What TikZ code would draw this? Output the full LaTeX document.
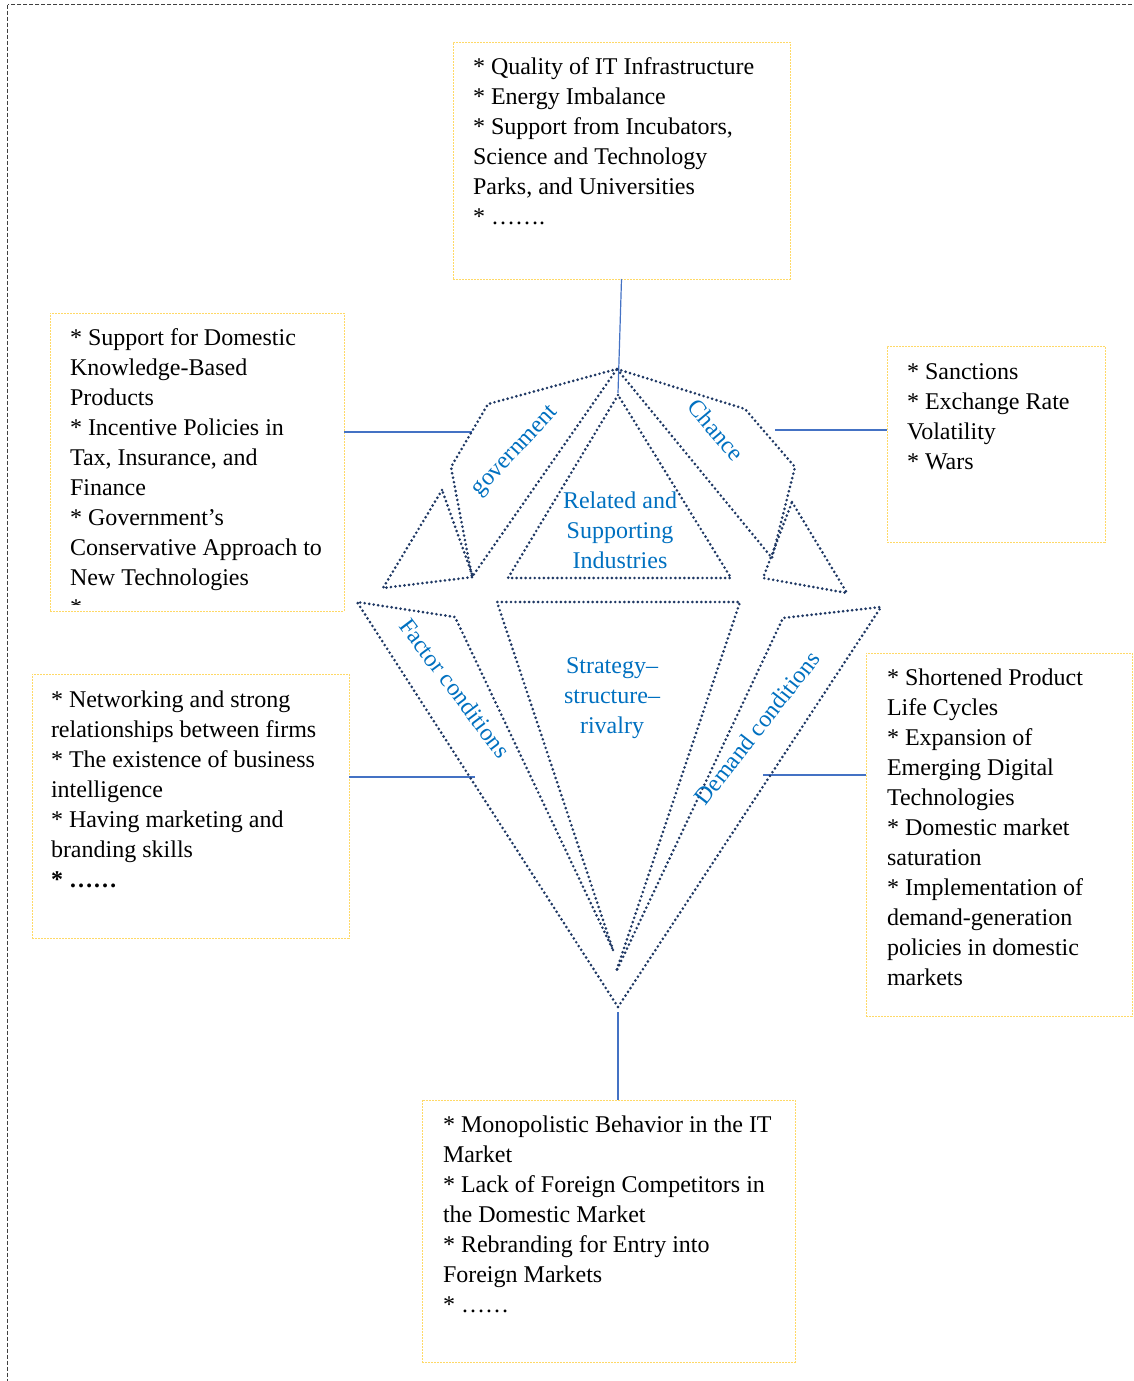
\documentclass[tikz,border=0pt]{standalone}
\usepackage{fontspec}
\setmainfont{Liberation Serif}
\usetikzlibrary{fit}
\definecolor{navy}{HTML}{1F3864}
\definecolor{linkblue}{HTML}{4472C4}
\definecolor{labblue}{HTML}{0070C0}
\definecolor{boxline}{HTML}{FFD966}

\begin{document}
\begin{tikzpicture}[x=0.75pt,y=-0.75pt,
  every node/.style={inner sep=0pt, outer sep=0pt},
  txt/.style={anchor=north west, align=left, font=\fontsize{18}{22.5}\selectfont},
  lbl/.style={text=labblue, font=\fontsize{18}{22.5}\selectfont},
  infobox/.style={draw=boxline, line width=0.75pt, dash pattern=on 1.5pt off 0.75pt},
  piece/.style={draw=navy, line width=2.2pt, line cap=round, line join=round, dash pattern=on 0pt off 3.4pt},
  link/.style={draw=linkblue, line width=0.9pt},
  frame/.style={draw=black!75, line width=0.75pt, dash pattern=on 3pt off 1.5pt}
]
\clip (0,0) rectangle (1134,1381);
% page frame
\draw[frame] (7.5,4.5) rectangle (1200,1450);

% ---------- boxes ----------
\node[infobox, fit={(453,42) (790,279)}] (topbox) {};
\node[infobox, fit={(50,313) (344,611)}] (govbox) {};
\node[infobox, fit={(887,346) (1105,542)}] (chancebox) {};
\node[infobox, fit={(32,674) (349,938)}] (factorbox) {};
\node[infobox, fit={(866,653) (1132,1016)}] (demandbox) {};
\node[infobox, fit={(422,1100) (795,1362)}] (bottombox) {};

% ---------- box texts ----------
\node[txt] (toptext) at (473,53) {\strut * Quality of IT Infrastructure\\
* Energy Imbalance\\
* Support from Incubators,\\
Science and Technology\\
Parks, and Universities\\
* …….};

% the last line of this box is cut by the box's inner margin
\begin{scope}
\clip (50,313) rectangle (344,604);
\node[txt] (govtext) at (70,324) {\strut * Support for Domestic\\
Knowledge-Based\\
Products\\
* Incentive Policies in\\
Tax, Insurance, and\\
Finance\\
* Government’s\\
Conservative Approach to\\
New Technologies\\
*};
\end{scope}

\node[txt] (chancetext) at (907,358) {\strut * Sanctions\\
* Exchange Rate\\
Volatility\\
* Wars};

\node[txt] (factortext) at (51,686) {\strut * Networking and strong\\
relationships between firms\\
* The existence of business\\
intelligence\\
* Having marketing and\\
branding skills\\
\textbf{* ……}};

\node[txt] (demandtext) at (887,664) {\strut * Shortened Product\\
Life Cycles\\
* Expansion of\\
Emerging Digital\\
Technologies\\
* Domestic market\\
saturation\\
* Implementation of\\
demand-generation\\
policies in domestic\\
markets};

\node[txt] (bottomtext) at (443,1111) {\strut * Monopolistic Behavior in the IT\\
Market\\
* Lack of Foreign Competitors in\\
the Domestic Market\\
* Rebranding for Entry into\\
Foreign Markets\\
* ……};

% ---------- connectors ----------
\coordinate (apexlink) at (618,393);
\coordinate (govlink) at (472,432);
\coordinate (chancelink) at (775,430);
\coordinate (factorlink) at (475,777);
\coordinate (demandlink) at (763,775);
\coordinate (bottomlink) at (618,1012);
\draw[link] (topbox.south) -- (apexlink);
\draw[link] (govlink) -- (govlink -| govbox.east);
\draw[link] (chancelink) -- (chancelink -| chancebox.west);
\draw[link] (factorlink) -- (factorlink -| factorbox.east);
\draw[link] (demandlink) -- (demandlink -| demandbox.west);
\draw[link] (bottomlink) -- (bottomlink |- bottombox.north);

% ---------- diamond pieces ----------
\coordinate (apex) at (617,369);
\coordinate (bottom) at (618,1007);
% government
\draw[piece] (apex) -- (488,404) -- (451,467) -- (472,577) -- cycle;
\draw[piece] (442,490) -- (383,588) -- (473,577) -- cycle;
% chance
\draw[piece] (apex) -- (745,409) -- (795,467) -- (772,558) -- cycle;
\draw[piece] (792,502) -- (847,593) -- (763,578) -- cycle;
% related and supporting industries
\draw[piece] (618,395) -- (508,578) -- (731,578) -- cycle;
% strategy, structure, rivalry
\draw[piece] (613,950) -- (497,602) -- (740,602) -- (616,972);
% factor conditions
\draw[piece] (bottom) -- (357,602) -- (455,617) -- (613,950);
% demand conditions
\draw[piece] (bottom) -- (881,607) -- (783,618) -- (616,972);

% ---------- labels ----------
\node[lbl, align=center, anchor=north] (rsi) at (620,487) {\strut Related and\\ Supporting\\ Industries};
\node[lbl, align=center, anchor=north] (ssr) at (612,652) {\strut Strategy–\\ structure–\\ rivalry};
\node[lbl, rotate=47] (govlabel) at (516,452) {government};
\node[lbl, rotate=-50] (chancelabel) at (716,430) {Chance};
\node[lbl, rotate=-53] (factorlabel) at (455,688) {Factor conditions};
\node[lbl, rotate=52] (demandlabel) at (757,728) {Demand conditions};
\end{tikzpicture}
\end{document}
